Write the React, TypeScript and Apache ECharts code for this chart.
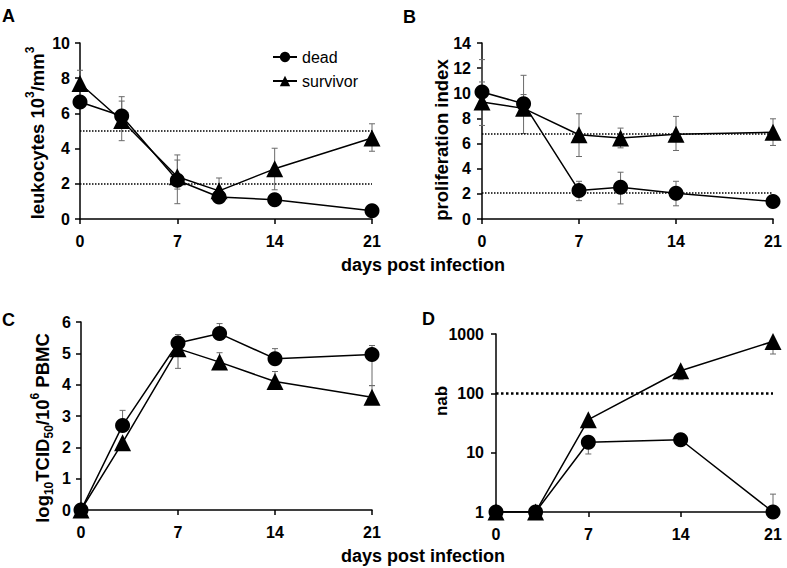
import React, { useEffect, useRef } from "react";
import * as echarts from "echarts";

const DAYS = [0, 3, 7, 10, 14, 21];
const DAYS_D = [0, 3, 7, 14, 21];

// Panel A: leukocytes 10^3/mm^3
const leukoDead = [6.65, 5.85, 2.2, 1.25, 1.1, 0.47];
const leukoSurv = [7.7, 5.6, 2.4, 1.6, 2.85, 4.6];
const leukoDeadErr: (number[] | null)[] = [null, [5.2, 6.95], [0.87, 3.35], null, null, null];
const leukoSurvErr: (number[] | null)[] = [[7.0, 8.45], [4.45, 6.7], [1.7, 3.64], [1.0, 2.33], [1.66, 4.02], [3.85, 5.41]];
const leukoRefs = [5, 2];

// Panel B: proliferation index
const prolDead = [10.1, 9.17, 2.26, 2.52, 2.04, 1.4];
const prolSurv = [9.3, 8.8, 6.7, 6.45, 6.75, 6.9];
const prolDeadErr: (number[] | null)[] = [[9.2, 10.9], [8.4, 9.9], [1.46, 3.0], [1.2, 3.72], [1.05, 3.0], null];
const prolSurvErr: (number[] | null)[] = [[7.44, 12.68], [6.8, 11.43], [4.97, 8.37], [5.66, 7.23], [5.45, 8.16], [5.85, 7.97]];
const prolRefs = [6.8, 2.05];

// Panel C: log10 TCID50 / 10^6 PBMC
const virDead = [0, 2.7, 5.33, 5.63, 4.83, 4.96];
const virSurv = [0, 2.15, 5.15, 4.72, 4.1, 3.6];
const virDeadErr: (number[] | null)[] = [null, [2.7, 3.18], [5.33, 5.6], [5.63, 5.95], [4.83, 5.15], [3.97, 5.25]];
const virSurvErr: (number[] | null)[] = [null, null, [4.52, 5.15], [4.72, 5.02], [4.1, 4.42], [3.6, 3.97]];

// Panel D: nab (log scale)
const nabDead = [1, 1, 15, 16.5, 1];
const nabSurv = [1, 1, 36, 240, 750];
const nabDeadErr: (number[] | null)[] = [null, null, [9.5, 15], null, [1, 2]];
const nabSurvErr: (number[] | null)[] = [null, null, null, [170, 240], [460, 750]];
const nabRefs = [100];

const FONT = "'Liberation Sans', Arial, Helvetica, sans-serif";

function pairs(days: number[], vals: number[]) {
  return days.map((d, i) => [d, vals[i]]);
}
function errData(days: number[], errs: (number[] | null)[]) {
  const out: number[][] = [];
  days.forEach((d, i) => {
    const e = errs[i];
    if (e) out.push([d, e[0], e[1]]);
  });
  return out;
}

const renderErr = (_params: any, api: any) => {
  const x = api.value(0);
  const lo = api.value(1);
  const hi = api.value(2);
  const pLo = api.coord([x, lo]);
  const pHi = api.coord([x, hi]);
  const cap = 3;
  const style = { stroke: "#6a6a6a", lineWidth: 1, fill: null };
  return {
    type: "group",
    children: [
      { type: "line", shape: { x1: pLo[0], y1: pLo[1], x2: pHi[0], y2: pHi[1] }, style },
      { type: "line", shape: { x1: pHi[0] - cap, y1: pHi[1], x2: pHi[0] + cap, y2: pHi[1] }, style },
      { type: "line", shape: { x1: pLo[0] - cap, y1: pLo[1], x2: pLo[0] + cap, y2: pLo[1] }, style },
    ],
  };
};

function App() {
  const ref = useRef<HTMLDivElement>(null);

  useEffect(() => {
    if (!ref.current) return;
    const chart = echarts.init(ref.current, undefined, { renderer: "svg" });

    const axisLine = { show: true, lineStyle: { color: "#000", width: 1.5 } };
    const axisTick = { show: true, inside: false, length: 5, lineStyle: { color: "#000", width: 1.5 } };
    const tickLabel = (margin: number) => ({
      color: "#000",
      fontSize: 16,
      fontWeight: "bold",
      fontFamily: FONT,
      margin,
      formatter: (v: number) => String(v),
    });

    const xAxis = [0, 1, 2, 3].map((g) => ({
      type: "value",
      gridIndex: g,
      min: 0,
      max: 21,
      interval: 7,
      axisLine,
      axisTick,
      splitLine: { show: false },
      axisLabel: tickLabel(14),
    }));

    const yAxis: any[] = [
      { type: "value", gridIndex: 0, min: 0, max: 10, interval: 2, axisLabel: tickLabel(10) },
      { type: "value", gridIndex: 1, min: 0, max: 14, interval: 2, axisLabel: tickLabel(11) },
      { type: "value", gridIndex: 2, min: 0, max: 6, interval: 1, axisLabel: tickLabel(10) },
      { type: "log", logBase: 10, gridIndex: 3, min: 1, max: 1000, splitNumber: 3, axisLabel: tickLabel(12) },
    ].map((a) => ({ ...a, axisLine, axisTick, splitLine: { show: false } }));

    const lineSeries = (name: string, idx: number, data: number[][], symbol: string, size: number, refs?: number[], refWidth = 1.5) => ({
      type: "line",
      name,
      xAxisIndex: idx,
      yAxisIndex: idx,
      data,
      symbol,
      symbolSize: size,
      showSymbol: true,
      z: 3,
      itemStyle: { color: "#000" },
      lineStyle: { color: "#000", width: 1.5 },
      emphasis: { disabled: true },
      markLine: refs
        ? {
            silent: true,
            symbol: "none",
            label: { show: false },
            lineStyle: { color: "#000", width: refWidth, type: [refWidth, refWidth] },
            data: refs.map((v) => ({ yAxis: v })),
          }
        : undefined,
    });

    const errSeries = (idx: number, data: number[][]) => ({
      type: "custom",
      xAxisIndex: idx,
      yAxisIndex: idx,
      renderItem: renderErr,
      encode: { x: 0, y: [1, 2] },
      data,
      z: 1,
      silent: true,
    });

    const sup = { fontSize: 12, fontWeight: "bold", fontFamily: FONT, color: "#000", lineHeight: 12, verticalAlign: "top" };
    const sub = { fontSize: 12, fontWeight: "bold", fontFamily: FONT, color: "#000", lineHeight: 12, verticalAlign: "bottom" };
    const big = (fs: number) => ({ fontSize: fs, fontWeight: "bold", fontFamily: FONT, color: "#000", lineHeight: 26 });

    const vText = (x: number, y: number, text: string, rich: any) => ({
      type: "text",
      x,
      y,
      rotation: Math.PI / 2,
      style: { text, rich, align: "center", verticalAlign: "middle" },
    });
    const plainText = (x: number, y: number, text: string, fs: number, align = "left") => ({
      type: "text",
      x,
      y,
      style: { text, fontSize: fs, fontWeight: "bold", fontFamily: FONT, fill: "#000", align, verticalAlign: "middle" },
    });

    chart.setOption({
      animation: false,
      backgroundColor: "#fff",
      grid: [
        { left: 80, top: 43, width: 292, height: 176 },
        { left: 482, top: 43, width: 291, height: 176 },
        { left: 81, top: 322, width: 291, height: 188 },
        { left: 496, top: 334, width: 277, height: 178 },
      ],
      legend: {
        data: ["dead", "survivor"],
        left: 267,
        top: 44,
        orient: "vertical",
        itemWidth: 24,
        itemHeight: 13,
        itemGap: 8,
        selectedMode: false,
        textStyle: { fontSize: 16, color: "#000", fontFamily: FONT },
      },
      xAxis,
      yAxis,
      series: [
        errSeries(0, errData(DAYS, leukoDeadErr)),
        errSeries(0, errData(DAYS, leukoSurvErr)),
        lineSeries("dead", 0, pairs(DAYS, leukoDead), "circle", 15, leukoRefs),
        lineSeries("survivor", 0, pairs(DAYS, leukoSurv), "triangle", 17),

        errSeries(1, errData(DAYS, prolDeadErr)),
        errSeries(1, errData(DAYS, prolSurvErr)),
        lineSeries("dead", 1, pairs(DAYS, prolDead), "circle", 15, prolRefs),
        lineSeries("survivor", 1, pairs(DAYS, prolSurv), "triangle", 17),

        errSeries(2, errData(DAYS, virDeadErr)),
        errSeries(2, errData(DAYS, virSurvErr)),
        lineSeries("dead", 2, pairs(DAYS, virDead), "circle", 15),
        lineSeries("survivor", 2, pairs(DAYS, virSurv), "triangle", 17),

        errSeries(3, errData(DAYS_D, nabDeadErr)),
        errSeries(3, errData(DAYS_D, nabSurvErr)),
        lineSeries("dead", 3, pairs(DAYS_D, nabDead), "circle", 15, nabRefs, 2.5),
        lineSeries("survivor", 3, pairs(DAYS_D, nabSurv), "triangle", 17),
      ],
      graphic: [
        plainText(2, 16, "A", 18),
        plainText(403, 17, "B", 18),
        plainText(2, 320, "C", 18),
        plainText(422, 319, "D", 18),
        plainText(423, 265, "days post infection", 18, "center"),
        plainText(423, 556, "days post infection", 18, "center"),
        vText(37, 133, "{b|leukocytes 10}{s|3}{b|/mm}{s|3}", { b: big(18.5), s: sup }),
        vText(441, 140, "{b|proliferation index}", { b: big(18.5) }),
        vText(42, 428, "{b|log}{d|10}{b|TCID}{d|50}{b|/10}{s|6}{b| PBMC}", { b: big(18.5), s: sup, d: sub }),
        vText(441, 401, "{b|nab}", { b: big(17) }),
      ],
    });

    return () => chart.dispose();
  }, []);

  return <div ref={ref} style={{ position: "absolute", left: 0, top: 0, width: 787, height: 568 }} />;
}

export default App;
